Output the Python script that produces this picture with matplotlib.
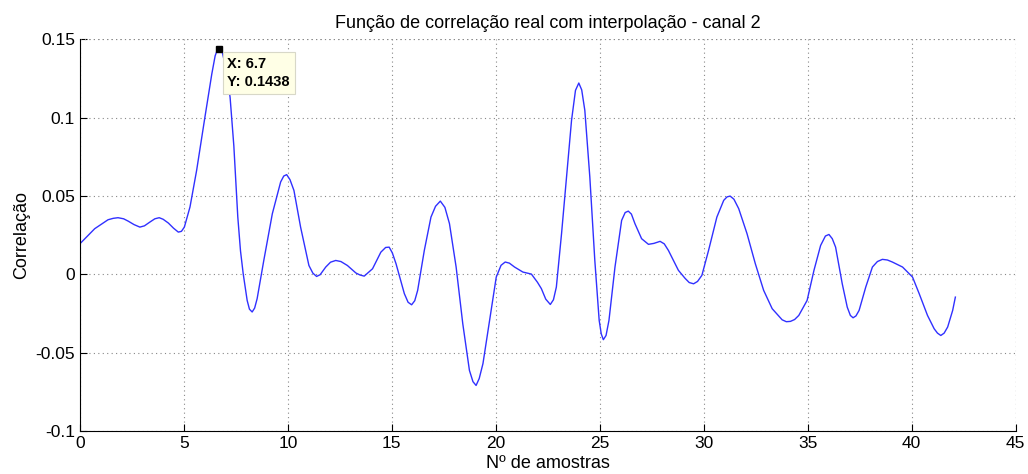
import matplotlib
matplotlib.use("Agg")
import matplotlib.pyplot as plt

# pontos (amostras interpoladas)
lag = [0.0, 0.71, 1.35, 1.6, 1.83, 2.1, 2.32, 2.6, 2.88, 3.1, 3.36, 3.6, 3.81,
       4.0, 4.25, 4.5, 4.73, 4.88, 5.02, 5.29, 5.61, 6.01, 6.34, 6.5, 6.58,
       6.7, 6.85, 7.05, 7.22, 7.4, 7.59, 7.72, 7.85, 8.04, 8.15, 8.28, 8.4,
       8.52, 8.84, 9.25, 9.65, 9.8, 9.94, 10.1, 10.29, 10.61, 11.01, 11.2,
       11.38, 11.55, 11.82, 12.05, 12.3, 12.55, 12.86, 13.27, 13.47, 13.67,
       14.07, 14.47, 14.7, 14.87, 15.02, 15.2, 15.6, 15.78, 15.95, 16.1,
       16.24, 16.56, 16.88, 17.1, 17.33, 17.55, 17.77, 18.09, 18.41, 18.73,
       18.9, 19.05, 19.2, 19.38, 19.7, 20.02, 20.25, 20.45, 20.65, 20.9,
       21.3, 21.71, 22.0, 22.19, 22.4, 22.62, 22.77, 22.91, 23.16, 23.4,
       23.64, 23.83, 23.99, 24.13, 24.28, 24.52, 24.76, 24.97, 25.07, 25.17,
       25.3, 25.44, 25.73, 26.05, 26.22, 26.37, 26.52, 26.69, 27.01, 27.34,
       27.6, 27.9, 28.1, 28.3, 28.78, 29.1, 29.3, 29.51, 29.7, 29.91, 30.23,
       30.63, 30.96, 31.12, 31.27, 31.45, 31.68, 32.08, 32.48, 32.88, 33.29,
       33.77, 33.97, 34.17, 34.37, 34.57, 34.97, 35.3, 35.62, 35.85, 36.02,
       36.18, 36.34, 36.66, 36.9, 37.05, 37.18, 37.32, 37.47, 37.79, 38.11,
       38.35, 38.59, 38.83, 39.07, 39.56, 40.04, 40.36, 40.76, 41.08, 41.24,
       41.4, 41.56, 41.73, 41.97, 42.1]
corr = [0.0196, 0.0292, 0.0349, 0.0358, 0.0362, 0.0355, 0.034, 0.0318, 0.0302,
        0.031, 0.0334, 0.0355, 0.0362, 0.0352, 0.0328, 0.0295, 0.027, 0.0275,
        0.0302, 0.043, 0.0664, 0.1005, 0.128, 0.1395, 0.1425, 0.1438, 0.1415,
        0.13, 0.113, 0.082, 0.0366, 0.015, 0.0004, -0.0166, -0.0222, -0.024,
        -0.0215, -0.0155, 0.0089, 0.0387, 0.059, 0.0628, 0.0637, 0.0605,
        0.0536, 0.0302, 0.0057, 0.0008, -0.0013, -0.0002, 0.0047, 0.0078,
        0.0089, 0.0082, 0.0057, 0.0009, -0.0004, -0.0011, 0.0036, 0.0142,
        0.0172, 0.0174, 0.0138, 0.0068, -0.0123, -0.0178, -0.0194, -0.0168,
        -0.0102, 0.0153, 0.0366, 0.0435, 0.0468, 0.0428, 0.0324, 0.0047,
        -0.0315, -0.0613, -0.0685, -0.0709, -0.0665, -0.057, -0.0294, -0.0017,
        0.0058, 0.0079, 0.0072, 0.0047, 0.0015, 0.0002, -0.005, -0.0091,
        -0.0158, -0.0192, -0.0162, -0.0081, 0.026, 0.0622, 0.0983, 0.1175,
        0.1222, 0.1178, 0.1047, 0.0622, 0.0089, -0.0294, -0.038, -0.0417,
        -0.039, -0.0294, 0.0047, 0.0345, 0.0395, 0.0404, 0.0385, 0.0324,
        0.0228, 0.0192, 0.0198, 0.0211, 0.0195, 0.0153, 0.0026, -0.0025,
        -0.0052, -0.006, -0.0045, -0.0006, 0.0153, 0.0366, 0.0473, 0.0495,
        0.05, 0.048, 0.042, 0.026, 0.0068, -0.0102, -0.0219, -0.029, -0.0302,
        -0.03, -0.0288, -0.0262, -0.0166, 0.0026, 0.0185, 0.0245, 0.0255,
        0.0228, 0.0174, -0.006, -0.0209, -0.0262, -0.0277, -0.0265, -0.023,
        -0.0081, 0.0047, 0.0082, 0.0096, 0.0092, 0.0079, 0.0047, -0.0017,
        -0.0123, -0.0262, -0.0347, -0.0375, -0.039, -0.0375, -0.0336, -0.023,
        -0.0145]

tip_x = 6.7
tip_y = 0.1438

plt.rcParams['font.family'] = ['Liberation Sans', 'DejaVu Sans']

fig = plt.figure(figsize=(10.28, 4.74), dpi=100)
ax = fig.add_axes([0.0778, 0.0907, 0.9102, 0.826])

ax.plot(lag, corr, color="#3030ff", linewidth=1.0)
ax.plot([tip_x], [tip_y], marker="s", color="black", markersize=5, linestyle="none")
ax.text(tip_x + 0.39, tip_y - 0.0048, "X: 6.7\nY: 0.1438", fontsize=10.5, fontweight="bold",
        va="top", ha="left", linespacing=1.4,
        bbox=dict(boxstyle="square,pad=0.32", facecolor="#ffffe6", edgecolor="#d8d8c8", linewidth=0.8))

ax.set_xlim(0, 45)
ax.set_ylim(-0.1, 0.15)
ax.set_xticks(range(0, 46, 5))
ax.set_yticks([-0.1, -0.05, 0, 0.05, 0.1, 0.15])
ax.set_yticklabels(["-0.1", "-0.05", "0", "0.05", "0.1", "0.15"])
ax.grid(True, linestyle=(0, (1, 3)), color="#888888", linewidth=0.8)
ax.spines['top'].set_visible(False)
ax.spines['right'].set_visible(False)
ax.tick_params(direction="in", length=5, labelsize=12.5)
ax.axhline(0.15, color="#888888", linestyle=(0, (1, 3)), linewidth=0.8)
ax.axvline(45, color="#888888", linestyle=(0, (1, 3)), linewidth=0.8)

ax.set_title("Função de correlação real com interpolação - canal 2", fontsize=13, pad=8)
ax.set_xlabel("Nº de amostras", fontsize=13, labelpad=3)
ax.set_ylabel("Correlação", fontsize=13, labelpad=4)

fig.savefig("out.png", dpi=100)
